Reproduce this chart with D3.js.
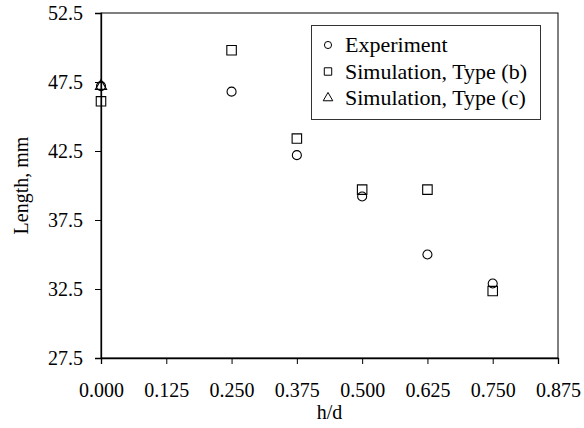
<!DOCTYPE html>
<html><head><meta charset="utf-8">
<script src="https://cdn.jsdelivr.net/npm/d3@7"></script>
<style>body{margin:0;background:#fff}svg{display:block}svg text{font-family:"Liberation Serif","Times New Roman",Times,"DejaVu Serif",serif !important;fill:#000}</style>
</head><body><svg id="c" width="584" height="428"></svg>
<script>
const xTicks = [0, 0.125, 0.25, 0.375, 0.5, 0.625, 0.75, 0.875];
const yTicks = [27.5, 32.5, 37.5, 42.5, 47.5, 52.5];
const expX = [0, 0.25, 0.375, 0.5, 0.625, 0.75];
const expY = [47.2, 46.8, 42.2, 39.2, 35.0, 32.9];
const simBX = [0, 0.25, 0.375, 0.5, 0.625, 0.75];
const simBY = [46.1, 49.8, 43.4, 39.7, 39.7, 32.35];
const simCX = [0];
const simCY = [47.2];
const seriesNames = ["Experiment", "Simulation, Type (b)", "Simulation, Type (c)"];

const svg = d3.select("#c");
const L = 101, R = 558, T = 13, B = 358;
const x = d3.scaleLinear().domain([0, 0.875]).range([L, R]);
const y = d3.scaleLinear().domain([27.5, 52.5]).range([B, T]);
const fs = 20;

svg.append("rect").attr("x", L).attr("y", T).attr("width", R - L).attr("height", B - T)
  .attr("fill", "none").attr("stroke", "#000").attr("stroke-width", 1);

const xa = svg.append("g").attr("transform", `translate(0,${B})`)
  .call(d3.axisBottom(x).tickValues(xTicks).tickFormat(d3.format(".3f")).tickSize(6).tickPadding(19));
const ya = svg.append("g").attr("transform", `translate(${L},0)`)
  .call(d3.axisLeft(y).tickValues(yTicks).tickFormat(d3.format(".1f")).tickSize(6).tickPadding(12));
[xa, ya].forEach(a => {
  a.attr("font-family", null);
  a.select(".domain").attr("stroke", "#000").attr("stroke-width", 1.3);
  a.selectAll(".tick line").attr("stroke", "#000");
  a.selectAll("text").attr("font-size", fs).attr("fill", "#000");
});

svg.append("text").attr("x", (L + R) / 2).attr("y", 419).attr("text-anchor", "middle").attr("font-size", fs).text("h/d");
svg.append("text").attr("transform", `translate(28,${(T + B) / 2}) rotate(-90)`).attr("text-anchor", "middle").attr("font-size", fs).text("Length, mm");

const g = svg.append("g");
const circ = d3.symbol().type(d3.symbolCircle).size(64);
const sq = d3.symbol().type(d3.symbolSquare).size(90);
const tri = d3.symbol().type(d3.symbolTriangle).size(55);
function draw(xs, ys, sym) {
  g.selectAll(null).data(xs.map((d, i) => [d, ys[i]])).enter().append("path")
    .attr("d", sym).attr("transform", d => `translate(${x(d[0])},${y(d[1])})`)
    .attr("fill", "none").attr("stroke", "#000").attr("stroke-width", 1.1);
}
draw(simBX, simBY, sq);
draw(expX, expY, circ);
draw(simCX, simCY, tri);

// legend
const lg = svg.append("g");
lg.append("rect").attr("x", 311.5).attr("y", 25.5).attr("width", 229).attr("height", 94)
  .attr("fill", "#fff").attr("stroke", "#333").attr("stroke-width", 1);
const syms = [d3.symbol().type(d3.symbolCircle).size(40), d3.symbol().type(d3.symbolSquare).size(55), d3.symbol().type(d3.symbolTriangle).size(40)];
seriesNames.forEach((n, i) => {
  const cy = 45 + i * 26.5;
  lg.append("path").attr("d", syms[i]).attr("transform", `translate(328,${cy})`)
    .attr("fill", "none").attr("stroke", "#000").attr("stroke-width", 1);
  lg.append("text").attr("x", 345).attr("y", cy + 7).attr("font-size", 22).text(n);
});
</script></body></html>
